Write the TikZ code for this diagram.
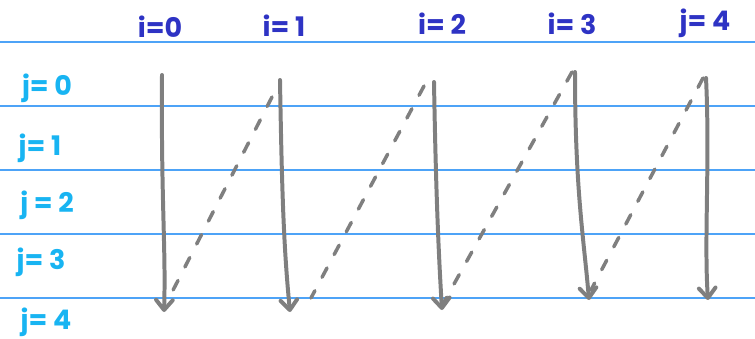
\documentclass[tikz,border=0pt]{standalone}
\usepackage{fontspec}
\setmainfont{Poppins}
\usetikzlibrary{arrows.meta}

\definecolor{rulecol}{HTML}{4DA3F7}
\definecolor{icol}{HTML}{2E33C4}
\definecolor{jcol}{HTML}{18B4F2}
\definecolor{pen}{HTML}{7F7F7F}

\tikzset{
  ilabel/.style={text=icol, font=\fontsize{23}{25}\selectfont\bfseries},
  jlabel/.style={text=jcol, font=\fontsize{23}{25}\selectfont\bfseries},
  down/.style={pen, line width=3.4pt, line cap=round, -{Straight Barb[length=3mm,width=5mm,round]}},
  back/.style={pen, line width=3pt, line cap=round, dash pattern=on 9pt off 13pt},
}

\begin{document}
\begin{tikzpicture}[x=0.03cm,y=-0.03cm]
\useasboundingbox (0,0) rectangle (755,339);
% ruled lines
\foreach \y in {42,106,170,234,298}
  \draw[rulecol, line width=1.2pt] (0,\y) -- (755,\y);

% column labels
\node[ilabel] (i0) at (160,27) {i=0};
\node[ilabel] (i1) at (284,26) {i= 1};
\node[ilabel] (i2) at (442,24) {i= 2};
\node[ilabel] (i3) at (572,24) {i= 3};
\node[ilabel] (i4) at (705,23) {j= 4};

% row labels
\node[jlabel] (j0) at (47,88) {j= 0};
\node[jlabel] (j1) at (40,148) {j= 1};
\node[jlabel] (j2) at (47,205) {j = 2};
\node[jlabel] (j3) at (41,262) {j= 3};
\node[jlabel] (j4) at (46,322) {j= 4};

% column tops and bottoms
\coordinate (t0) at (162,75);  \coordinate (b0) at (164,312);
\coordinate (t1) at (280,80);  \coordinate (b1) at (290,312);
\coordinate (t2) at (434,82);  \coordinate (b2) at (442,310);
\coordinate (t3) at (575,72);  \coordinate (b3) at (589,300);
\coordinate (t4) at (706,78);  \coordinate (b4) at (708,300);

% walk down each column
\draw[down] (t0) .. controls (161,200) and (166,250) .. (b0);
\draw[down] (t1) .. controls (282,200) and (284,250) .. (b1);
\draw[down] (t2) .. controls (436,200) and (439,260) .. (b2);
\draw[down] (t3) .. controls (575,190) and (584,240) .. (b3);
\draw[down] (t4) .. controls (710,160) and (704,240) .. (b4);

% jump back to the next column
\coordinate (s1) at (272,97);  \coordinate (e1) at (168,300);
\coordinate (s2) at (424,86);  \coordinate (e2) at (311,298);
\coordinate (s3) at (572,72);  \coordinate (e3) at (444,302);
\coordinate (s4) at (703,78);  \coordinate (e4) at (591,290);
\draw[back] (s1) -- (e1);
\draw[back] (s2) -- (e2);
\draw[back] (s3) -- (e3);
\draw[back] (s4) -- (e4);
\end{tikzpicture}
\end{document}
